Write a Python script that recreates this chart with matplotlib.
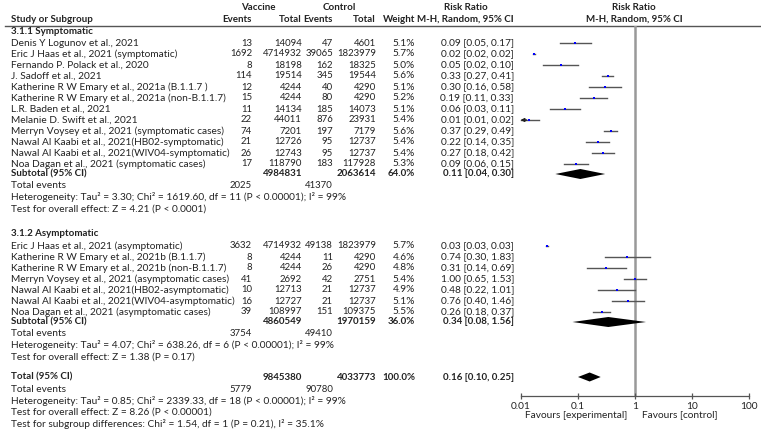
import matplotlib
matplotlib.use("Agg")
import matplotlib.pyplot as plt

plt.rcParams['font.family'] = ['Lato', 'DejaVu Sans']
FS = 7.25
FSB = 7.0
FSN = 6.9

# ---------------- data ----------------
sym_studies = [
    "Denis Y Logunov et al., 2021",
    "Eric J Haas et al., 2021 (symptomatic)",
    "Fernando P. Polack et al., 2020",
    "J. Sadoff et al., 2021",
    "Katherine R W Emary et al., 2021a (B.1.1.7 )",
    "Katherine R W Emary et al., 2021a (non-B.1.1.7)",
    "L.R. Baden et al., 2021",
    "Melanie D. Swift et al., 2021",
    "Merryn Voysey et al., 2021 (symptomatic cases)",
    "Nawal Al Kaabi et al., 2021(HB02-symptomatic)",
    "Nawal Al Kaabi et al., 2021(WIV04-symptomatic)",
    "Noa Dagan et al., 2021 (symptomatic cases)",
]
sym_vac_events = [13, 1692, 8, 114, 12, 15, 11, 22, 74, 21, 26, 17]
sym_vac_total = [14094, 4714932, 18198, 19514, 4244, 4244, 14134, 44011, 7201, 12726, 12743, 118790]
sym_ctl_events = [47, 39065, 162, 345, 40, 80, 185, 876, 197, 95, 95, 183]
sym_ctl_total = [4601, 1823979, 18325, 19544, 4290, 4290, 14073, 23931, 7179, 12737, 12737, 117928]
sym_weight = ["5.1%", "5.7%", "5.0%", "5.6%", "5.1%", "5.2%", "5.1%", "5.4%", "5.6%", "5.4%", "5.4%", "5.3%"]
sym_rr = [0.0903, 0.01676, 0.0497, 0.331, 0.303, 0.1895, 0.0592, 0.01366, 0.3745, 0.2212, 0.2736, 0.0922]
sym_lo = [0.0489, 0.01596, 0.0245, 0.268, 0.159, 0.1094, 0.0322, 0.00895, 0.2873, 0.138, 0.1774, 0.0561]
sym_hi = [0.1668, 0.01759, 0.1011, 0.4086, 0.5773, 0.3284, 0.1087, 0.02084, 0.4882, 0.3547, 0.4218, 0.1516]
sym_rr_text = ["0.09 [0.05, 0.17]", "0.02 [0.02, 0.02]", "0.05 [0.02, 0.10]", "0.33 [0.27, 0.41]",
               "0.30 [0.16, 0.58]", "0.19 [0.11, 0.33]", "0.06 [0.03, 0.11]", "0.01 [0.01, 0.02]",
               "0.37 [0.29, 0.49]", "0.22 [0.14, 0.35]", "0.27 [0.18, 0.42]", "0.09 [0.06, 0.15]"]

asym_studies = [
    "Eric J Haas et al., 2021 (asymptomatic)",
    "Katherine R W Emary et al., 2021b (B.1.1.7)",
    "Katherine R W Emary et al., 2021b (non-B.1.1.7)",
    "Merryn Voysey et al., 2021 (asymptomatic cases)",
    "Nawal Al Kaabi et al., 2021(HB02-asymptomatic)",
    "Nawal Al Kaabi et al., 2021(WIV04-asymptomatic)",
    "Noa Dagan et al., 2021 (asymptomatic cases)",
]
asym_vac_events = [3632, 8, 8, 41, 10, 16, 39]
asym_vac_total = [4714932, 4244, 4244, 2692, 12713, 12727, 108997]
asym_ctl_events = [49138, 11, 26, 42, 21, 21, 151]
asym_ctl_total = [1823979, 4290, 4290, 2751, 12737, 12737, 109375]
asym_weight = ["5.7%", "4.6%", "4.8%", "5.4%", "4.9%", "5.1%", "5.5%"]
asym_rr = [0.0286, 0.735, 0.311, 0.998, 0.477, 0.7625, 0.2592]
asym_lo = [0.02765, 0.296, 0.141, 0.651, 0.2248, 0.398, 0.1823]
asym_hi = [0.02957, 1.826, 0.686, 1.529, 1.013, 1.4605, 0.3685]
asym_rr_text = ["0.03 [0.03, 0.03]", "0.74 [0.30, 1.83]", "0.31 [0.14, 0.69]", "1.00 [0.65, 1.53]",
                "0.48 [0.22, 1.01]", "0.76 [0.40, 1.46]", "0.26 [0.18, 0.37]"]

# subtotal / total pooled: [rr, lo, hi]
sub_sym = [0.11, 0.04, 0.30]
sub_asym = [0.34, 0.08, 1.56]
overall = [0.16, 0.10, 0.25]

sub_sym_tot = [4984831, 2063614]
sub_asym_tot = [4860549, 1970159]
overall_tot = [9845380, 4033773]
sym_total_events = [2025, 41370]
asym_total_events = [3754, 49410]
overall_total_events = [5779, 90780]

x_ticks = [0.01, 0.1, 1, 10, 100]
x_tick_labels = ["0.01", "0.1", "1", "10", "100"]

# ---------------- layout ----------------
W, H = 761, 430
fig = plt.figure(figsize=(W / 100, H / 100), dpi=100)
tax = fig.add_axes([0, 0, 1, 1])
tax.set_xlim(0, W)
tax.set_ylim(H, 0)
tax.axis('off')

X_NAME = 11
X_VE, X_VT, X_CE, X_CT, X_W, X_RR = 252, 302, 333, 376, 415, 514
AX_L, AX_R, AX_TOP, AX_BOT = 521, 749, 25.5, 396

fax = fig.add_axes([AX_L / W, 1 - AX_BOT / H, (AX_R - AX_L) / W, (AX_BOT - AX_TOP) / H])
fax.set_xscale('log')
fax.set_xlim(0.01, 100)
fax.set_ylim(AX_BOT, AX_TOP)
fax.patch.set_alpha(0)
for s in ['top', 'left', 'right']:
    fax.spines[s].set_visible(False)
fax.spines['bottom'].set_color('#555555')
fax.spines['bottom'].set_linewidth(0.9)
fax.set_yticks([])
fax.set_xticks(x_ticks)
fax.set_xticklabels(x_tick_labels)
fax.xaxis.set_minor_locator(matplotlib.ticker.NullLocator())
fax.tick_params(axis='x', direction='inout', length=5, width=0.9, color='#555555',
                labelsize=FS, pad=1.5, labelcolor='#222222')
fax.axvline(1, color='#999999', lw=1.8, zorder=1)

TXT = '#222222'


def t(x, y, s, ha='left', bold=False, num=False, **kw):
    size = FSB if bold else (FSN if num else FS)
    tax.text(x, y, s, ha=ha, va='center', fontsize=size, color=TXT,
             fontweight='bold' if bold else 'normal', **kw)


# headers
t(258, 8, "Vaccine", ha='center', bold=True)
t(339, 8, "Control", ha='center', bold=True)
t(466, 8, "Risk Ratio", ha='center', bold=True)
t(634, 8, "Risk Ratio", ha='center', bold=True)
t(X_NAME, 19.5, "Study or Subgroup", bold=True)
t(X_VE, 19.5, "Events", ha='right', bold=True)
t(X_VT, 19.5, "Total", ha='right', bold=True)
t(X_CE, 19.5, "Events", ha='right', bold=True)
t(X_CT, 19.5, "Total", ha='right', bold=True)
t(X_W, 19.5, "Weight", ha='right', bold=True)
t(X_RR, 19.5, "M-H, Random, 95% CI", ha='right', bold=True)
t(634, 19.5, "M-H, Random, 95% CI", ha='center', bold=True)
tax.plot([5, W], [25.5, 25.5], color='#555555', lw=1.0)


def study_block(y0, names, ve, vt, ce, ct, wt, rr, lo, hi, rrtxt):
    for i in range(len(names)):
        y = y0 + 11 * i
        t(X_NAME, y, names[i])
        t(X_VE, y, str(ve[i]), ha='right', num=True)
        t(X_VT, y, str(vt[i]), ha='right', num=True)
        t(X_CE, y, str(ce[i]), ha='right', num=True)
        t(X_CT, y, str(ct[i]), ha='right', num=True)
        t(X_W, y, wt[i], ha='right')
        t(X_RR, y, rrtxt[i], ha='right')
        l = max(lo[i], 0.01)
        fax.plot([l, hi[i]], [y, y], color='#555555', lw=1.0, zorder=2, clip_on=False)
        if lo[i] < 0.01:
            fax.annotate('', xy=(0.0098, y), xytext=(0.0125, y),
                         arrowprops=dict(arrowstyle='-|>', color='#222222', lw=1.0,
                                         mutation_scale=5, shrinkA=0, shrinkB=0),
                         annotation_clip=False)
        fax.plot([rr[i]], [y], marker='s', ms=1.7, color='#0000ff', mew=0,
                 zorder=3, clip_on=False, linestyle='none')


def diamond(y, vals, h):
    r, l, u = vals
    fax.fill([l, r, u, r], [y, y - h / 2, y, y + h / 2], color='black', zorder=3, lw=0,
             clip_on=False)


# symptomatic
t(X_NAME, 32, "3.1.1 Symptomatic", bold=True)
study_block(43, sym_studies, sym_vac_events, sym_vac_total, sym_ctl_events, sym_ctl_total,
            sym_weight, sym_rr, sym_lo, sym_hi, sym_rr_text)
y = 174
t(X_NAME, y, "Subtotal (95% CI)", bold=True)
t(X_VT, y, str(sub_sym_tot[0]), ha='right', bold=True)
t(X_CT, y, str(sub_sym_tot[1]), ha='right', bold=True)
t(X_W, y, "64.0%", ha='right', bold=True)
t(X_RR, y, "%.2f [%.2f, %.2f]" % tuple(sub_sym), ha='right', bold=True)
diamond(y, sub_sym, 10)
t(X_NAME, 186, "Total events")
t(X_VE, 186, str(sym_total_events[0]), ha='right', num=True)
t(X_CE, 186, str(sym_total_events[1]), ha='right', num=True)
t(X_NAME, 197.5, "Heterogeneity: Tau² = 3.30; Chi² = 1619.60, df = 11 (P < 0.00001); I² = 99%")
t(X_NAME, 209, "Test for overall effect: Z = 4.21 (P < 0.0001)")

# asymptomatic
t(X_NAME, 234, "3.1.2 Asymptomatic", bold=True)
study_block(246, asym_studies, asym_vac_events, asym_vac_total, asym_ctl_events, asym_ctl_total,
            asym_weight, asym_rr, asym_lo, asym_hi, asym_rr_text)
y = 322
t(X_NAME, y, "Subtotal (95% CI)", bold=True)
t(X_VT, y, str(sub_asym_tot[0]), ha='right', bold=True)
t(X_CT, y, str(sub_asym_tot[1]), ha='right', bold=True)
t(X_W, y, "36.0%", ha='right', bold=True)
t(X_RR, y, "%.2f [%.2f, %.2f]" % tuple(sub_asym), ha='right', bold=True)
diamond(y, sub_asym, 10)
t(X_NAME, 334, "Total events")
t(X_VE, 334, str(asym_total_events[0]), ha='right', num=True)
t(X_CE, 334, str(asym_total_events[1]), ha='right', num=True)
t(X_NAME, 345.5, "Heterogeneity: Tau² = 4.07; Chi² = 638.26, df = 6 (P < 0.00001); I² = 99%")
t(X_NAME, 357, "Test for overall effect: Z = 1.38 (P = 0.17)")

# overall
y = 377
t(X_NAME, y, "Total (95% CI)", bold=True)
t(X_VT, y, str(overall_tot[0]), ha='right', bold=True)
t(X_CT, y, str(overall_tot[1]), ha='right', bold=True)
t(X_W, y, "100.0%", ha='right', bold=True)
t(X_RR, y, "%.2f [%.2f, %.2f]" % tuple(overall), ha='right', bold=True)
diamond(y, overall, 9)
t(X_NAME, 389, "Total events")
t(X_VE, 389, str(overall_total_events[0]), ha='right', num=True)
t(X_CE, 389, str(overall_total_events[1]), ha='right', num=True)
t(X_NAME, 401, "Heterogeneity: Tau² = 0.85; Chi² = 2339.33, df = 18 (P < 0.00001); I² = 99%")
t(X_NAME, 412.5, "Test for overall effect: Z = 8.26 (P < 0.00001)")
t(X_NAME, 424, "Test for subgroup differences: Chi² = 1.54, df = 1 (P = 0.21), I² = 35.1%")

t(627, 415, "Favours [experimental]", ha='right')
t(642, 415, "Favours [control]", ha='left')

fig.savefig("out.png", dpi=100)
